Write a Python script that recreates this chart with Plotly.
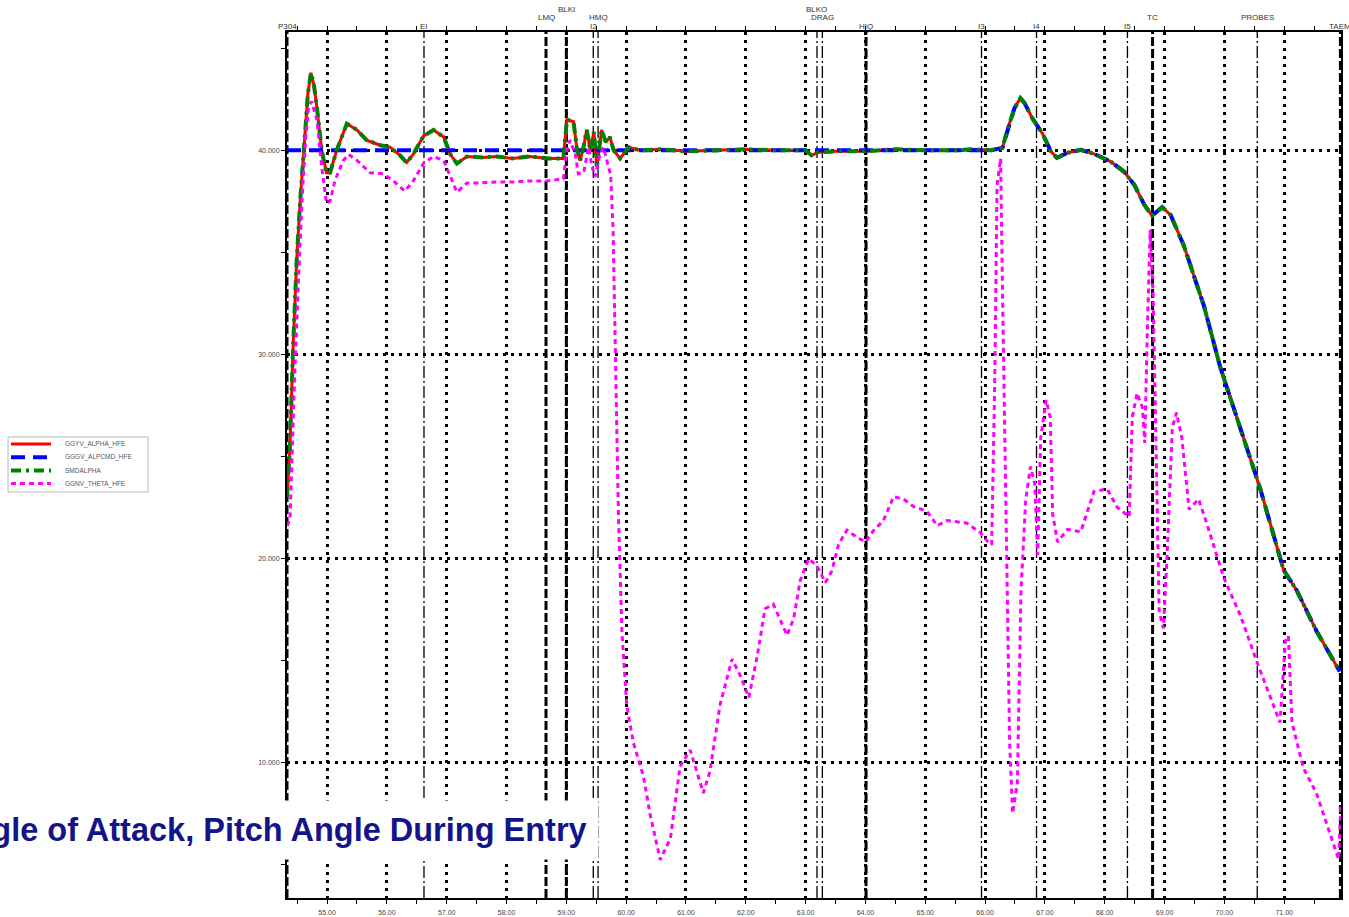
import plotly.graph_objects as go

# ---------------- data ----------------
alpha_t = [54.33, 54.38, 54.43, 54.49, 54.55, 54.62, 54.68, 54.73, 54.78, 54.83, 54.91, 54.99,
           55.05, 55.16, 55.33, 55.50, 55.66, 55.89, 56.05, 56.22, 56.33, 56.44, 56.61, 56.78,
           56.95, 57.06, 57.17, 57.34, 57.60, 57.84, 58.10, 58.39, 58.70, 58.95, 59.01, 59.12,
           59.18, 59.23, 59.29, 59.34, 59.40, 59.46, 59.51, 59.59, 59.66, 59.73, 59.79, 59.90,
           60.04, 60.23, 60.60, 61.00, 61.50, 62.00, 62.50, 63.00, 63.10, 63.20, 63.50, 64.00,
           64.50, 65.00, 65.50, 65.77, 66.10, 66.29, 66.38, 66.49, 66.59, 66.66, 66.79, 66.96,
           67.10, 67.20, 67.38, 67.60, 67.82, 68.10, 68.32, 68.49, 68.66, 68.79, 68.96, 69.10,
           69.32, 69.66, 69.93, 70.27, 70.60, 70.99, 71.21, 71.54, 71.93]
alpha_v = [23.0, 25.5, 30.2, 34.5, 37.5, 40.5, 42.8, 43.8, 43.2, 42.1, 40.0, 38.9,
           38.9, 40.0, 41.3, 41.0, 40.5, 40.25, 40.16, 39.75, 39.4, 39.8, 40.7, 41.0,
           40.65, 39.8, 39.35, 39.7, 39.65, 39.7, 39.6, 39.7, 39.6, 39.6, 41.5, 41.4,
           40.0, 39.5, 40.2, 41.0, 40.0, 40.9, 39.2, 41.0, 40.4, 40.65, 40.0, 39.6,
           40.15, 40.0, 40.05, 39.95, 40.0, 40.05, 40.0, 40.0, 39.75, 39.9, 39.95, 39.95,
           40.05, 40.0, 40.0, 40.05, 40.0, 40.12, 41.07, 42.06, 42.56, 42.31, 41.57, 40.82,
           39.95, 39.63, 39.88, 40.02, 39.83, 39.45, 38.96, 38.33, 37.34, 36.79, 37.21, 36.84,
           35.35, 32.36, 29.38, 26.39, 23.41, 19.43, 18.43, 16.44, 14.45]

cmd_t = [54.33, 66.10, 66.29, 66.38, 66.49, 66.59, 66.66, 66.79, 66.96, 67.10, 67.20, 67.38,
         67.60, 67.82, 68.10, 68.32, 68.49, 68.66, 68.79, 68.96, 69.10, 69.32, 69.66, 69.93,
         70.27, 70.60, 70.99, 71.21, 71.54, 71.93]
cmd_v = [40.0, 40.0, 40.12, 41.07, 42.06, 42.56, 42.31, 41.57, 40.82, 39.95, 39.63, 39.88,
         40.02, 39.83, 39.45, 38.96, 38.33, 37.34, 36.79, 37.21, 36.84, 35.35, 32.36, 29.38,
         26.39, 23.41, 19.43, 18.43, 16.44, 14.45]

theta_t = [54.33, 54.38, 54.42, 54.46, 54.52, 54.58, 54.64, 54.69, 54.74, 54.83, 54.91, 54.99,
           55.05, 55.13, 55.27, 55.36, 55.50, 55.72, 55.94, 56.11, 56.30, 56.44, 56.61, 56.78,
           56.95, 57.06, 57.17, 57.34, 57.56, 57.84, 58.12, 58.40, 58.67, 58.95, 59.01, 59.06,
           59.15, 59.20, 59.29, 59.37, 59.43, 59.48, 59.56, 59.62, 59.70, 59.74, 59.78, 59.82,
           59.87, 59.93, 60.01, 60.12, 60.29, 60.40, 60.57, 60.74, 60.90, 61.07, 61.18, 61.29,
           61.40, 61.57, 61.77, 61.91, 62.05, 62.19, 62.32, 62.46, 62.69, 62.80, 62.91, 63.05,
           63.19, 63.33, 63.44, 63.55, 63.69, 63.86, 64.00, 64.14, 64.30, 64.47, 64.64, 64.80,
           65.03, 65.20, 65.36, 65.69, 65.92, 66.05, 66.11, 66.16, 66.20, 66.26, 66.29, 66.35,
           66.41, 66.46, 66.54, 66.60, 66.68, 66.76, 66.83, 66.88, 66.93, 67.02, 67.09, 67.13,
           67.21, 67.38, 67.60, 67.82, 68.04, 68.21, 68.41, 68.46, 68.54, 68.63, 68.67, 68.71,
           68.76, 68.81, 68.85, 68.91, 68.98, 69.04, 69.13, 69.20, 69.29, 69.41, 69.57, 69.71,
           69.99, 70.27, 70.54, 70.77, 70.93, 71.02, 71.07, 71.13, 71.32, 71.54, 71.82, 71.91,
           71.95]
theta_v = [21.6, 21.9, 25.5, 29.2, 33.5, 37.5, 40.5, 42.1, 42.4, 41.5, 39.2, 37.4,
           37.5, 38.5, 39.5, 39.8, 39.5, 38.9, 38.85, 38.5, 38.0, 38.5, 39.35, 39.7,
           39.5, 38.7, 37.95, 38.4, 38.4, 38.45, 38.45, 38.5, 38.5, 38.6, 40.0, 40.5,
           39.8, 38.85, 38.9, 40.15, 39.2, 38.7, 39.8, 40.15, 39.2, 38.8, 36.25, 29.2,
           22.2, 16.35, 12.8, 10.96, 9.3, 7.45, 5.22, 6.28, 9.79, 10.6, 9.55, 8.5,
           9.55, 12.83, 15.06, 14.24, 13.18, 15.18, 17.52, 17.75, 16.23, 17.05, 18.92, 19.98,
           19.63, 18.81, 19.39, 20.68, 21.38, 21.03, 20.8, 21.38, 21.85, 23.02, 22.9, 22.55,
           22.3, 21.6, 21.85, 21.73, 21.26, 20.8, 20.67, 28.4, 38.3, 39.6, 33.36, 20.9,
           11.0, 7.5, 9.0, 18.4, 22.9, 24.5, 23.66, 20.17, 25.9, 27.76, 26.9, 22.16,
           20.8, 21.42, 21.3, 23.28, 23.4, 22.5, 22.04, 26.9, 28.1, 27.4, 25.65, 30.9,
           36.1, 32.86, 25.9, 17.44, 16.57, 19.93, 26.4, 27.14, 25.9, 22.4, 22.9, 21.67,
           19.05, 17.19, 14.95, 13.21, 11.96, 15.95, 16.2, 11.96, 9.73, 8.48, 5.97, 5.25,
           7.99]

series_names = ["GGYV_ALPHA_HFE", "GGGV_ALPCMD_HFE", "SMDALPHA", "GGNV_THETA_HFE"]

event_names = ["P304", "EI", "LMQ", "BLKI", "I2", "HMQ", "BLKO", "DRAG", "HIQ",
               "I3", "I4", "I5", "TC", "PROBES", "TAEM"]
event_times = [54.33, 56.62, 58.66, 59.00, 59.45, 59.53, 63.19, 63.28, 64.01,
               65.94, 66.86, 68.38, 68.80, 70.55, 71.94]

x_tick_vals = [55, 56, 57, 58, 59, 60, 61, 62, 63, 64, 65, 66, 67, 68, 69, 70, 71]
y_tick_vals = [10, 20, 30, 40]

title_text = "Angle of Attack, Pitch Angle During Entry"

# ---------------- styling / layout helpers ----------------
W, H = 1349, 917
ML, MR, MT, MB = 287, 8, 32, 19
PW, PH = W - ML - MR, H - MT - MB


def px_x(p):  # pixel -> paper x
    return (p - ML) / PW


def px_y(p):  # pixel -> paper y
    return (H - MB - p) / PH


series_lines = [
    dict(color="#ff0000", width=3),
    dict(color="#0000ff", width=4, dash="14px,8px"),
    dict(color="#008000", width=4, dash="10px,5px,3px,5px"),
    dict(color="#ff00ff", width=3, dash="5px,4px"),
]
label_row = {"P304": 0, "EI": 0, "LMQ": 1, "BLKI": 2, "I2": 0, "HMQ": 1, "BLKO": 2,
             "DRAG": 1, "HIQ": 0, "I3": 0, "I4": 0, "I5": 0, "TC": 1, "PROBES": 1, "TAEM": 0}
thick_events = {"P304", "LMQ", "BLKI", "HIQ", "TC", "TAEM"}
font_family = "Liberation Sans, Arial"

fig = go.Figure()
series_data = [(alpha_t, alpha_v), (cmd_t, cmd_v), (alpha_t, alpha_v), (theta_t, theta_v)]
for (xs, ys), nm, ln in zip(series_data, series_names, series_lines):
    fig.add_trace(go.Scatter(x=xs, y=ys, mode="lines", name=nm, line=ln, showlegend=False))

# event marker lines + labels
for name, t in zip(event_names, event_times):
    if name in thick_events:
        ln = dict(color="black", width=3, dash="9px,3px")
    else:
        ln = dict(color="black", width=1.3, dash="12px,3px,2px,3px")
    fig.add_shape(type="line", xref="x", yref="paper", x0=t, x1=t, y0=0, y1=1,
                  line=ln, layer="between")
    fig.add_annotation(x=t, xref="x", y=1, yref="paper", text=name, showarrow=False,
                       xanchor="center", yanchor="middle",
                       yshift=6 + 8.5 * label_row[name],
                       font=dict(family=font_family, size=8, color="#333333"))

# custom compact legend (box at pixels 8..148 x 437..492)
fig.add_shape(type="rect", xref="paper", yref="paper",
              x0=px_x(8), x1=px_x(148), y0=px_y(492), y1=px_y(437),
              line=dict(color="#b8b8b8", width=1), fillcolor="white", layer="above")
for i, (nm, ln) in enumerate(zip(series_names, series_lines)):
    yy = 444 + 13.2 * i
    fig.add_shape(type="line", xref="paper", yref="paper",
                  x0=px_x(11), x1=px_x(51), y0=px_y(yy), y1=px_y(yy),
                  line=ln, layer="above")
    fig.add_annotation(x=px_x(63), xref="paper", y=px_y(yy), yref="paper", text=nm,
                       showarrow=False, xanchor="left", yanchor="middle",
                       font=dict(family=font_family, size=6.5, color="#555555"))

# title banner
fig.add_annotation(x=px_x(599), xref="paper", y=px_y(830), yref="paper",
                   text="<b>" + title_text + "</b>", showarrow=False,
                   xanchor="right", yanchor="middle", bgcolor="white", borderpad=11,
                   font=dict(family=font_family, size=32.5, color="#14148a"))

axis_common = dict(showgrid=True, gridcolor="black", gridwidth=2.5, griddash="3px,5px",
                   showline=True, linecolor="black", linewidth=2,
                   ticks="outside", ticklen=4, tickcolor="black", tickwidth=1,
                   tickfont=dict(family=font_family, size=7, color="#444444"),
                   zeroline=False, automargin=False)

fig.update_layout(
    width=W, height=H,
    margin=dict(l=ML, r=MR, t=MT, b=MB, autoexpand=False),
    paper_bgcolor="white", plot_bgcolor="white",
    showlegend=False,
    xaxis=dict(range=[54.33, 71.95], tickvals=x_tick_vals,
               ticktext=[f"{v:.2f}" for v in x_tick_vals], mirror="ticks",
               ticklabelstandoff=3,
               minor=dict(dtick=0.5, tick0=54.5, ticks="outside", ticklen=4,
                          tickcolor="black", showgrid=False),
               **axis_common),
    yaxis=dict(range=[3.35, 45.8], tickvals=y_tick_vals,
               ticktext=[f"{v:.3f}" for v in y_tick_vals], mirror=True,
               minor=dict(dtick=5, tick0=5, ticks="outside", ticklen=4,
                          tickcolor="black", showgrid=False),
               **axis_common),
)

fig.write_html("out.html", config={"displayModeBar": False},
               post_script="document.body.style.margin='0px';document.body.style.overflow='hidden';")
